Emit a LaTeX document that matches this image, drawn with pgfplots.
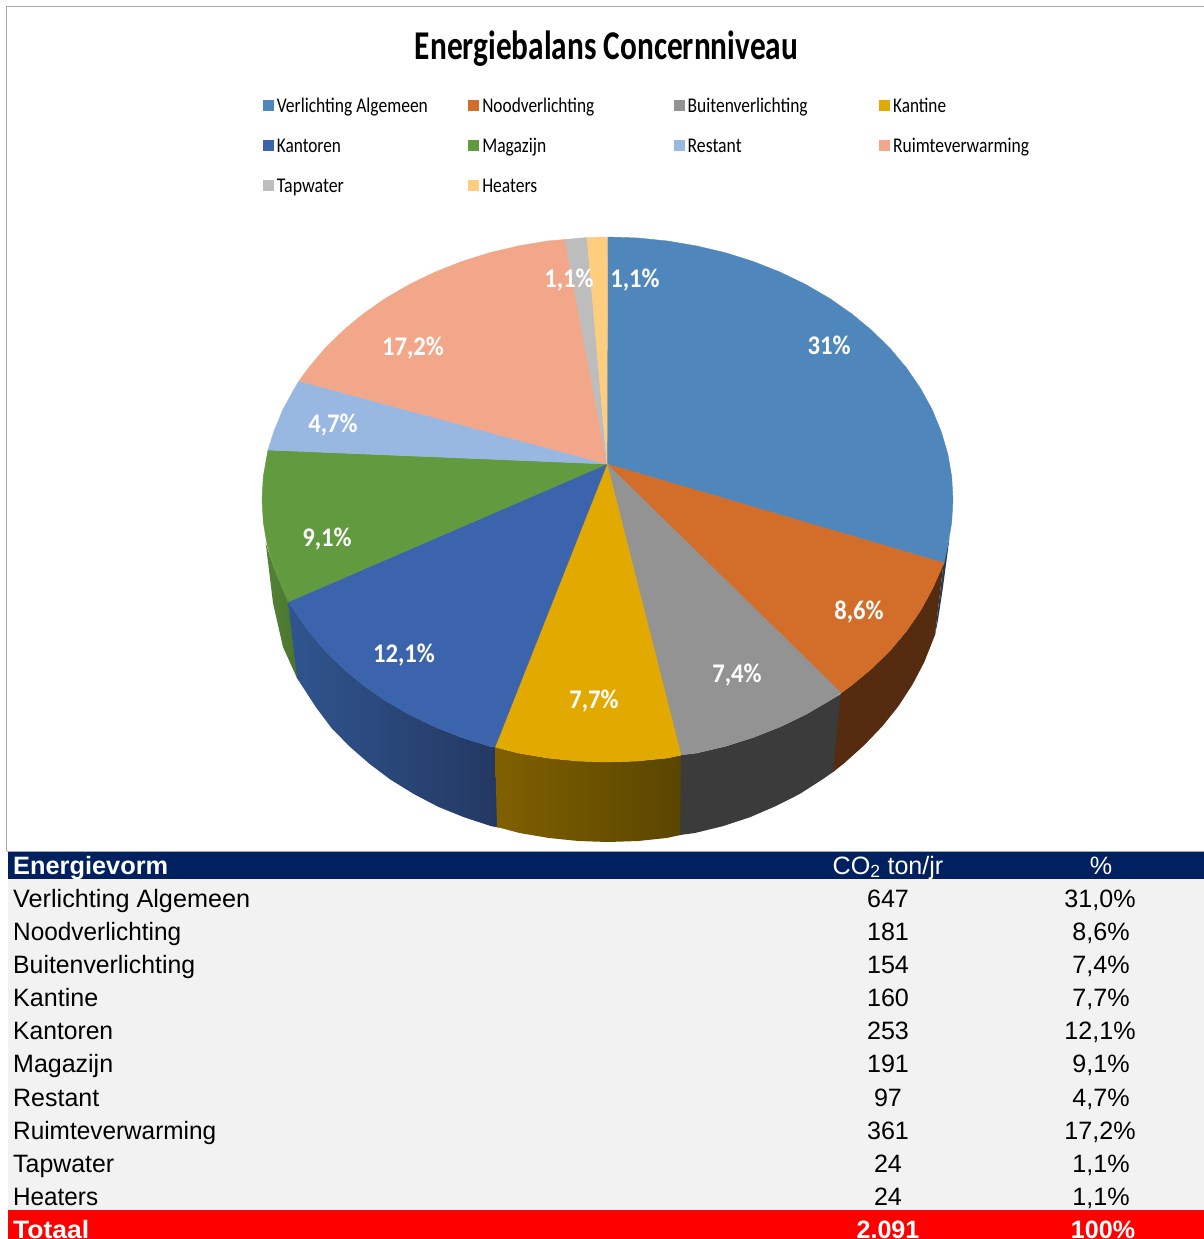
\documentclass[border=0pt]{standalone}
\usepackage{pgfplots}
\pgfplotsset{compat=1.18}
\usepackage{fontspec}
\usepackage{graphicx}
\setmainfont{Liberation Sans}
\newfontfamily\car{Carlito}
\definecolor{cA}{HTML}{4F87BD}
\definecolor{cB}{HTML}{D26E2A}
\definecolor{cC}{HTML}{939393}
\definecolor{cD}{HTML}{E2A900}
\definecolor{cE}{HTML}{3B64AD}
\definecolor{cF}{HTML}{629A3F}
\definecolor{cG}{HTML}{98B8E2}
\definecolor{cH}{HTML}{F3A78A}
\definecolor{cI}{HTML}{BDBDBD}
\definecolor{cJ}{HTML}{FFCD7E}
\definecolor{navy}{HTML}{002060}
\definecolor{rowbg}{HTML}{F2F2F2}
\newcommand\lgd[2]{\hspace*{3.5bp}\makebox[187.5bp][l]{\raisebox{-2.5bp}{\resizebox{#2bp}{\height}{#1}}}}
\newcommand\rowtext{\fontsize{25.2}{30}\selectfont}
\newcommand\rw[2]{\resizebox{#1bp}{\height}{\rowtext #2}}
\newcommand\plab[1]{\scalebox{0.99}[1.08]{\car\bfseries\fontsize{25}{30}\selectfont #1}}
\begin{document}
\begin{tikzpicture}
\useasboundingbox (0,0) rectangle (1204bp,1239bp);
\clip (0,0) rectangle (1204bp,1239bp);
\begin{axis}[
  at={(0,0)}, anchor=south west,
  scale only axis, width=1204bp, height=1239bp,
  xmin=0, xmax=1204, ymin=0, ymax=1239, y dir=reverse,
  axis lines=none,
  legend columns=4,
  legend image code/.code={\fill[#1] (0bp,-5bp) rectangle (10bp,5bp);},
  legend style={draw=none, fill=none, at={(axis cs:263,97)}, anchor=north west,
    inner sep=0pt, outer sep=0pt, row sep=24bp,
    nodes={inner sep=0pt, text height=13bp, text depth=3bp, font=\car\fontsize{21}{23}\selectfont},
    /tikz/every even column/.append style={column sep=4bp}},
]
% table background
\addplot[draw=none, fill=navy, forget plot] coordinates {(8,852) (1204,852) (1204,879) (8,879)} -- cycle;
\addplot[draw=none, fill=rowbg, forget plot] coordinates {(8,879) (1204,879) (1204,1210) (8,1210)} -- cycle;
\addplot[draw=none, fill=red, forget plot] coordinates {(8,1210) (1204,1210) (1204,1239) (8,1239)} -- cycle;
% frame
\addplot[color=black!35, line width=1bp, forget plot] coordinates {(6.5,851) (6.5,6.5) (1204,6.5)};
\addplot[color=black!35, line width=1bp, forget plot] coordinates {(6.5,851) (1204,851)};
% side walls
\addplot[draw=none, fill=cA!45!black, forget plot] coordinates {(949.5,538) (943,587) (938,620) (935,635) (943.5,563)} -- cycle;
\addplot[draw=none, left color=cF!85!black, right color=cF!75!black, forget plot] coordinates {(290,602) (282.8,589.3) (273.8,567.4) (265.7,543) (273,603) (283,647) (297,678) (299,681)} -- cycle;
\addplot[draw=none, left color={rgb,255:red,48;green,85;blue,143}, right color={rgb,255:red,35;green,56;blue,98}, forget plot] coordinates {(497,747.5) (489.3,746.2) (461.5,737.4) (434.7,726.8) (409.3,714.5) (385.4,700.6) (363.2,685.1) (342.8,668.2) (324.5,650.1) (308.3,630.8) (294.4,610.4) (288,602) (297,678) (316.3,707.8) (331.5,728) (349.3,746.2) (369.2,763.6) (390.4,779.6) (413.8,794) (438.2,806.8) (464.5,817.4) (491.3,826.2) (499,827.6)} -- cycle;
\addplot[draw=none, left color={rgb,255:red,128;green,96;blue,0}, right color={rgb,255:red,90;green,69;blue,0}, forget plot] coordinates {(682.5,755) (667.5,758) (637.6,761) (607.5,762) (577.4,761) (547.5,758) (518.1,753) (495,747) (497,827) (519.6,833) (549,838) (578.4,841) (608,842) (638.1,841) (666.5,838) (681.5,834.8)} -- cycle;
\addplot[draw=none, fill={rgb,255:red,59;green,59;blue,59}, forget plot] coordinates {(842.5,693) (829.6,700.6) (805.7,714.5) (780.3,726.8) (753.5,737.4) (725.7,746.2) (696.9,753) (681,755) (680,835) (694.9,833) (722.7,826.2) (749.5,817.4) (775.3,806.3) (799.7,794) (822.1,779.6) (834.5,771)} -- cycle;
\addplot[draw=none, fill={rgb,255:red,85;green,44;blue,16}, forget plot] coordinates {(943.5,563) (932.2,589.3) (920.6,610.4) (906.7,630.8) (890.5,650.1) (872.2,668.2) (851.8,685.1) (841,693) (833,772) (843.8,763.6) (864.2,745.2) (882.5,726.1) (898.7,705.8) (912.6,684.4) (924.2,662.3) (935,635)} -- cycle;
% top face: one wedge per category
\addplot[fill=cA, draw=cA, line width=0.4bp] coordinates {(607,464) (607.5,237) (637.6,238) (667.5,241) (696.9,246) (725.7,252.8) (753.5,261.6) (780.3,272.2) (805.7,284.5) (829.6,298.4) (851.8,313.9) (872.2,330.8) (890.5,348.9) (906.7,368.2) (920.6,388.6) (932.2,409.7) (941.2,431.6) (947.8,453.9) (951.7,476.6) (953,499.5) (951.7,522.4) (947.8,545.1) (944,563)} -- cycle;
\addlegendentry{\lgd{Verlichting Algemeen}{151}}
\addplot[fill=cB, draw=cB, line width=0.4bp] coordinates {(607,464) (944,563) (932.2,589.3) (920.6,610.4) (906.7,630.8) (890.5,650.1) (872.2,668.2) (851.8,685.1) (841,693)} -- cycle;
\addlegendentry{\lgd{Noodverlichting}{112}}
\addplot[fill=cC, draw=cC, line width=0.4bp] coordinates {(607,464) (841,693) (829.6,700.6) (805.7,714.5) (780.3,726.8) (753.5,737.4) (725.7,746.2) (696.9,753) (681,755)} -- cycle;
\addlegendentry{\lgd{Buitenverlichting}{120}}
\addplot[fill=cD, draw=cD, line width=0.4bp] coordinates {(607,464) (681,755) (667.5,758) (637.6,761) (607.5,762) (577.4,761) (547.5,758) (518.1,753) (495,747)} -- cycle;
\addlegendentry{\lgd{Kantine}{53}}
\addplot[fill=cE, draw=cE, line width=0.4bp] coordinates {(607,464) (495,747) (489.3,746.2) (461.5,737.4) (434.7,726.8) (409.3,714.5) (385.4,700.6) (363.2,685.1) (342.8,668.2) (324.5,650.1) (308.3,630.8) (294.4,610.4) (288,602)} -- cycle;
\addlegendentry{\lgd{Kantoren}{64}}
\addplot[fill=cF, draw=cF, line width=0.4bp] coordinates {(607,464) (288,602) (282.8,589.3) (273.8,567.4) (267.2,545.1) (263.3,522.4) (262,499.5) (263.3,476.6) (268,450)} -- cycle;
\addlegendentry{\lgd{Magazijn}{64}}
\addplot[fill=cG, draw=cG, line width=0.4bp] coordinates {(607,464) (268,450) (273.8,431.6) (282.8,409.7) (294.4,388.6) (299,381)} -- cycle;
\addlegendentry{\lgd{Restant}{54}}
\addplot[fill=cH, draw=cH, line width=0.4bp] coordinates {(607,464) (299,381) (308.3,368.2) (324.5,348.9) (342.8,330.8) (363.2,313.9) (385.4,298.4) (409.3,284.5) (434.7,272.2) (461.5,261.6) (489.3,252.8) (518.1,246) (547.5,241) (565,239.5)} -- cycle;
\addlegendentry{\lgd{Ruimteverwarming}{136}}
\addplot[fill=cI, draw=cI, line width=0.4bp] coordinates {(607,464) (565,239.5) (587,237.5)} -- cycle;
\addlegendentry{\lgd{Tapwater}{67}}
\addplot[fill=cJ, draw=cJ, line width=0.4bp] coordinates {(607,464) (587,237.5) (607.5,237)} -- cycle;
\addlegendentry{\lgd{Heaters}{55}}
% title
\node[anchor=base, inner sep=0pt] at (axis cs:606.5,59.5) {\resizebox{383bp}{\height}{\car\bfseries\fontsize{41}{44}\selectfont Energiebalans Concernniveau}};
% data labels
\node[white] at (axis cs:829,345) {\plab{31\%}};
\node[white] at (axis cs:859,612) {\plab{8,6\%}};
\node[white] at (axis cs:737,675) {\plab{7,4\%}};
\node[white] at (axis cs:594,701) {\plab{7,7\%}};
\node[white] at (axis cs:404,655) {\plab{12,1\%}};
\node[white] at (axis cs:327,539) {\plab{9,1\%}};
\node[white] at (axis cs:333,425) {\plab{4,7\%}};
\node[white] at (axis cs:413,348) {\plab{17,2\%}};
\node[white] at (axis cs:569,280) {\plab{1,1\%}};
\node[white] at (axis cs:635,280) {\plab{1,1\%}};
% table
\node[anchor=base west, inner sep=0pt, white] at (axis cs:13,874) {\rw{155}{\bfseries Energievorm}};
\node[anchor=base, inner sep=0pt, white] at (axis cs:888,874) {\rowtext CO\textsubscript{2} ton/jr};
\node[anchor=base, inner sep=0pt, white] at (axis cs:1101,874) {\rowtext \%};
\node[anchor=base west, inner sep=0pt] at (axis cs:13,907) {\rw{237}{Verlichting Algemeen}};
\node[anchor=base, inner sep=0pt] at (axis cs:888,907) {\rowtext 647};
\node[anchor=base, inner sep=0pt] at (axis cs:1100,907) {\rowtext 31,0\%};
\node[anchor=base west, inner sep=0pt] at (axis cs:13,940) {\rw{168}{Noodverlichting}};
\node[anchor=base, inner sep=0pt] at (axis cs:888,940) {\rowtext 181};
\node[anchor=base, inner sep=0pt] at (axis cs:1101,940) {\rowtext 8,6\%};
\node[anchor=base west, inner sep=0pt] at (axis cs:13,973) {\rw{182}{Buitenverlichting}};
\node[anchor=base, inner sep=0pt] at (axis cs:888,973) {\rowtext 154};
\node[anchor=base, inner sep=0pt] at (axis cs:1101,973) {\rowtext 7,4\%};
\node[anchor=base west, inner sep=0pt] at (axis cs:13,1006) {\rw{85}{Kantine}};
\node[anchor=base, inner sep=0pt] at (axis cs:888,1006) {\rowtext 160};
\node[anchor=base, inner sep=0pt] at (axis cs:1101,1006) {\rowtext 7,7\%};
\node[anchor=base west, inner sep=0pt] at (axis cs:13,1039) {\rw{100}{Kantoren}};
\node[anchor=base, inner sep=0pt] at (axis cs:888,1039) {\rowtext 253};
\node[anchor=base, inner sep=0pt] at (axis cs:1100,1039) {\rowtext 12,1\%};
\node[anchor=base west, inner sep=0pt] at (axis cs:13,1072) {\rw{100}{Magazijn}};
\node[anchor=base, inner sep=0pt] at (axis cs:888,1072) {\rowtext 191};
\node[anchor=base, inner sep=0pt] at (axis cs:1101,1072) {\rowtext 9,1\%};
\node[anchor=base west, inner sep=0pt] at (axis cs:13,1106) {\rw{86}{Restant}};
\node[anchor=base, inner sep=0pt] at (axis cs:888,1106) {\rowtext 97};
\node[anchor=base, inner sep=0pt] at (axis cs:1101,1106) {\rowtext 4,7\%};
\node[anchor=base west, inner sep=0pt] at (axis cs:13,1139) {\rw{203}{Ruimteverwarming}};
\node[anchor=base, inner sep=0pt] at (axis cs:888,1139) {\rowtext 361};
\node[anchor=base, inner sep=0pt] at (axis cs:1100,1139) {\rowtext 17,2\%};
\node[anchor=base west, inner sep=0pt] at (axis cs:13,1172) {\rw{101}{Tapwater}};
\node[anchor=base, inner sep=0pt] at (axis cs:888,1172) {\rowtext 24};
\node[anchor=base, inner sep=0pt] at (axis cs:1101,1172) {\rowtext 1,1\%};
\node[anchor=base west, inner sep=0pt] at (axis cs:13,1205) {\rw{85}{Heaters}};
\node[anchor=base, inner sep=0pt] at (axis cs:888,1205) {\rowtext 24};
\node[anchor=base, inner sep=0pt] at (axis cs:1101,1205) {\rowtext 1,1\%};
\node[anchor=base west, inner sep=0pt, white] at (axis cs:13,1238.5) {\rw{76}{\bfseries Totaal}};
\node[anchor=base, inner sep=0pt, white] at (axis cs:888,1238.5) {\rowtext\bfseries 2.091};
\node[anchor=base, inner sep=0pt, white] at (axis cs:1103,1238.5) {\rowtext\bfseries 100\%};
\end{axis}
\end{tikzpicture}
\end{document}
